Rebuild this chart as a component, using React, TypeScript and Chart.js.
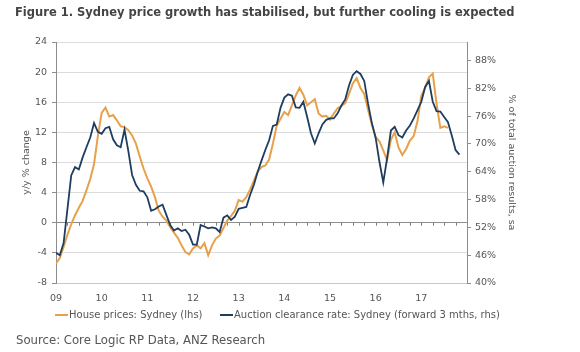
import React, { useEffect, useRef } from 'react';
import { Chart, registerables } from 'chart.js';

Chart.register(...registerables);

const TITLE = 'Figure 1. Sydney price growth has stabilised, but further cooling is expected';
const SOURCE = 'Source: Core Logic RP Data, ANZ Research';
const LEFT_AXIS_TITLE = 'y/y % change';
const RIGHT_AXIS_TITLE = '% of total auction results, sa';
const HOUSE_LABEL = 'House prices: Sydney (lhs)';
const AUCTION_LABEL = 'Auction clearance rate: Sydney (forward 3 mths, rhs)';

// x axis: months since Jan 2009; labels at each January
const YEAR_LABELS = ['09', '10', '11', '12', '13', '14', '15', '16', '17'];
const MONTHS_SPAN = 108;

const LEFT_TICKS = [-8, -4, 0, 4, 8, 12, 16, 20, 24];
const RIGHT_TICKS = [40, 46, 52, 58, 64, 70, 76, 82, 88];

// House prices: Sydney, y/y % change, monthly from Jan 2009
const HOUSE_PRICES = [
  -5.4, -4.7, -3.2, -1.6, -0.2, 1.0, 2.0, 2.9, 4.3, 5.8, 7.8, 11.5,
  14.6, 15.3, 14.1, 14.3, 13.6, 12.8, 12.7, 12.3, 11.6, 10.5, 8.8, 7.2,
  5.9, 4.8, 3.4, 1.6, 0.8, 0.3, -0.6, -1.3, -2.0, -3.0, -3.9, -4.2,
  -3.4, -3.0, -3.4, -2.7, -4.3, -3.0, -2.1, -1.7, -0.7, 0.3, 0.9, 1.6,
  3.0, 2.8, 3.4, 4.4, 5.6, 6.8, 7.4, 7.6, 8.4, 10.5, 12.9, 13.8,
  14.7, 14.3, 15.6, 16.9, 17.9, 17.0, 15.6, 16.0, 16.4, 14.5, 14.1, 14.2,
  13.7, 14.5, 15.2, 15.5, 15.9, 17.1, 18.5, 19.2, 17.9, 17.1, 15.0, 13.0,
  11.4, 10.8, 9.6, 8.3, 11.0, 12.0, 10.0, 9.0, 9.8, 10.9, 11.5, 13.5,
  16.9, 17.9, 19.3, 19.8, 15.8, 12.6, 12.8, 12.6,
];

// Auction clearance rate: Sydney (forward 3 months), % of total auction results, monthly from Jan 2009
const AUCTION_CLEARANCE = [
  46.5, 46.0, 48.6, 55.9, 63.2, 65.0, 64.5, 67.1, 69.3, 71.4, 74.5, 72.6,
  72.2, 73.4, 73.7, 71.0, 69.7, 69.3, 73.1, 68.5, 63.3, 61.2, 59.9, 59.8,
  58.5, 55.6, 55.9, 56.5, 56.9, 54.7, 52.5, 51.3, 51.8, 51.2, 51.5, 50.4,
  48.3, 48.3, 52.5, 52.2, 51.8, 52.0, 51.8, 51.0, 54.1, 54.6, 53.6, 54.3,
  56.0, 56.2, 56.4, 59.0, 61.2, 64.0, 66.4, 68.7, 70.8, 73.9, 74.2, 77.8,
  80.0, 80.7, 80.4, 77.9, 77.8, 79.1, 75.8, 72.3, 70.1, 72.3, 74.2, 75.2,
  75.5, 75.5, 76.6, 78.3, 79.6, 82.6, 84.9, 85.7, 85.1, 83.6, 78.7, 74.5,
  71.3, 66.1, 61.7, 66.9, 72.9, 73.7, 71.9, 71.4, 72.9, 74.0, 75.5, 77.3,
  79.1, 82.3, 83.6, 79.1, 77.1, 77.0, 75.8, 74.7, 71.8, 68.7, 67.7,
];

const ORANGE = '#E8A04A';
const NAVY = '#1E3D5F';
const TEXT = '#555555';
const FONT = '"DejaVu Sans", Verdana, sans-serif';

const textPlugin = {
  id: 'figureText',
  beforeDatasetsDraw(chart: any) {
    const { ctx, scales } = chart;
    const x = scales.x;
    const y = scales.y;
    const y0 = y.getPixelForValue(0);
    ctx.save();
    ctx.strokeStyle = '#7f7f7f';
    ctx.lineWidth = 1;
    for (let m = 3; m < MONTHS_SPAN; m += 3) {
      const px = Math.round(x.getPixelForValue(m)) + 0.5;
      ctx.beginPath();
      ctx.moveTo(px, y0);
      ctx.lineTo(px, y0 + 3);
      ctx.stroke();
    }
    ctx.restore();
  },
  afterDraw(chart: any) {
    const { ctx } = chart;
    ctx.save();
    ctx.textBaseline = 'middle';
    ctx.textAlign = 'left';
    // title
    ctx.fillStyle = '#444444';
    ctx.font = `bold 11.5px ${FONT}`;
    ctx.fillText(TITLE, 15, 13);
    // legend
    ctx.font = `10px ${FONT}`;
    ctx.fillStyle = TEXT;
    const ly = 315;
    const items = [
      { color: ORANGE, label: chart.data.datasets[0].label, x: 55 },
      { color: NAVY, label: chart.data.datasets[1].label, x: 220 },
    ];
    for (const it of items) {
      ctx.strokeStyle = it.color;
      ctx.lineWidth = 2;
      ctx.beginPath();
      ctx.moveTo(it.x, ly);
      ctx.lineTo(it.x + 13, ly);
      ctx.stroke();
      ctx.fillText(it.label, it.x + 14, ly);
    }
    // source
    ctx.font = `11.7px ${FONT}`;
    ctx.fillText(SOURCE, 16, 341);
    ctx.restore();
  },
};

export default function App() {
  const ref = useRef<HTMLCanvasElement | null>(null);

  useEffect(() => {
    const canvas = ref.current;
    if (!canvas) return;
    const chart = new Chart(canvas, {
      type: 'line',
      data: {
        datasets: [
          {
            label: HOUSE_LABEL,
            data: HOUSE_PRICES.map((v, i) => ({ x: i, y: v })),
            borderColor: ORANGE,
            borderWidth: 2,
            pointRadius: 0,
            yAxisID: 'y',
            order: 1,
          },
          {
            label: AUCTION_LABEL,
            data: AUCTION_CLEARANCE.map((v, i) => ({ x: i, y: v })),
            borderColor: NAVY,
            borderWidth: 1.8,
            pointRadius: 0,
            yAxisID: 'y2',
            order: 0,
          },
        ],
      },
      options: {
        responsive: false,
        animation: false,
        devicePixelRatio: 1,
        layout: { padding: { top: 42, left: 0, right: 0, bottom: 0 } },
        plugins: { legend: { display: false }, tooltip: { enabled: false }, title: { display: false } },
        scales: {
          x: {
            type: 'linear',
            min: 0,
            max: MONTHS_SPAN,
            afterBuildTicks: (s: any) => {
              s.ticks = YEAR_LABELS.map((_, i) => ({ value: i * 12 }));
            },
            afterFit: (s: any) => {
              s.height = 69;
            },
            grid: { display: false },
            border: { display: true, color: '#c8c8c8' },
            ticks: {
              autoSkip: false,
              maxRotation: 0,
              padding: 2,
              color: TEXT,
              font: { family: FONT, size: 9.5 },
              callback: (v: any) => YEAR_LABELS[Math.round(Number(v) / 12)] ?? '',
            },
          },
          y: {
            position: 'left',
            min: -8,
            max: 24,
            afterBuildTicks: (s: any) => {
              s.ticks = LEFT_TICKS.map((v) => ({ value: v }));
            },
            afterFit: (s: any) => {
              s.width = 56;
            },
            grid: {
              color: (c: any) => (c.tick && c.tick.value === 0 ? '#8c8c8c' : '#dcdcdc'),
              tickColor: '#8c8c8c',
              tickLength: 4,
            },
            border: { display: true, color: '#8c8c8c' },
            ticks: { padding: 5, color: TEXT, font: { family: FONT, size: 9.5 } },
            title: {
              display: true,
              text: LEFT_AXIS_TITLE,
              color: TEXT,
              font: { family: FONT, size: 9.5 },
              padding: { top: 21, bottom: 0 },
            },
          },
          y2: {
            position: 'right',
            min: 40,
            max: 92,
            afterBuildTicks: (s: any) => {
              s.ticks = RIGHT_TICKS.map((v) => ({ value: v }));
            },
            afterFit: (s: any) => {
              s.width = 113;
            },
            grid: { drawOnChartArea: false, tickColor: '#8c8c8c', tickLength: 4 },
            border: { display: true, color: '#8c8c8c' },
            ticks: {
              padding: 4,
              color: TEXT,
              font: { family: FONT, size: 9.5 },
              callback: (v: any) => `${v}%`,
            },
            title: {
              display: true,
              text: RIGHT_AXIS_TITLE,
              color: TEXT,
              font: { family: FONT, size: 9.5 },
              padding: { top: 63, bottom: 0 },
            },
          },
        },
      },
      plugins: [textPlugin],
    } as any);
    return () => chart.destroy();
  }, []);

  return (
    <div style={{ position: 'absolute', left: 0, top: 0, width: 580, height: 352, background: '#fff' }}>
      <canvas ref={ref} width={580} height={352} style={{ display: 'block', width: 580, height: 352 }} />
    </div>
  );
}
